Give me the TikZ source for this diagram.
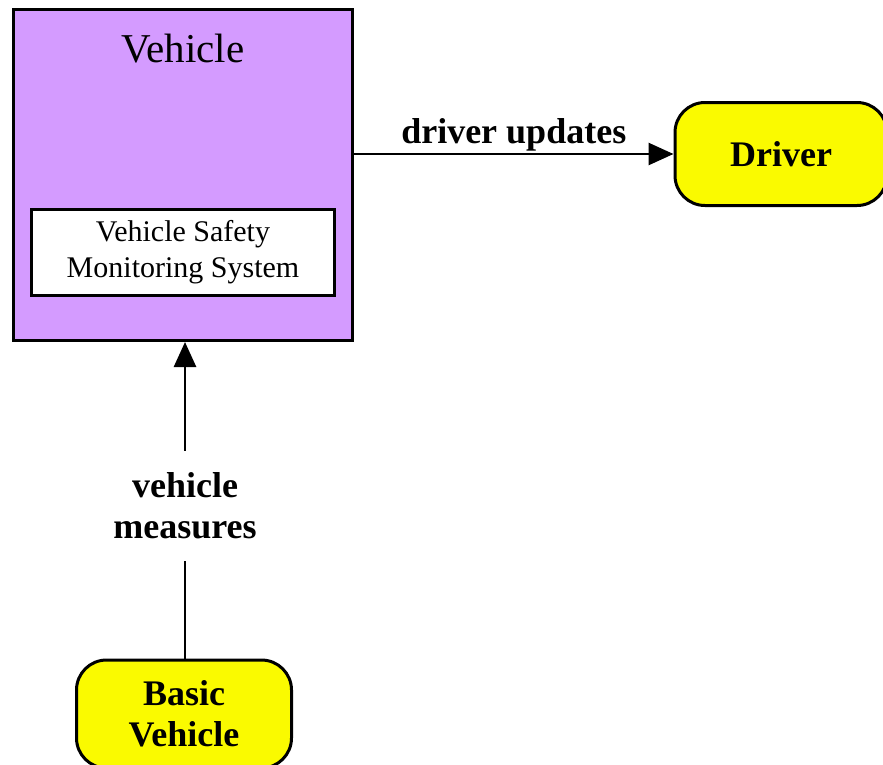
\documentclass[tikz,border=0pt]{standalone}
\usepackage{fontspec}
\setmainfont{Liberation Serif}
\usetikzlibrary{arrows.meta}
\definecolor{vpurple}{RGB}{212,155,255}
\definecolor{vyellow}{RGB}{250,250,0}
\tikzset{
  container/.style={draw, line width=3pt, fill=vpurple, inner sep=0pt},
  subsys/.style={draw, line width=3pt, fill=white, inner sep=0pt, align=center,
    font=\fontsize{30}{36}\selectfont},
  terminator/.style={draw, line width=3pt, fill=vyellow, rounded corners=30pt,
    inner sep=0pt, align=center, font=\fontsize{36}{41}\selectfont\bfseries},
  flowlabel/.style={align=center, font=\fontsize{36}{41}\selectfont\bfseries},
  conn/.style={line width=2.7pt},
  connarrow/.style={line width=2.7pt, -{Triangle[length=25pt, width=22pt]}}
}
\begin{document}
\begin{tikzpicture}[x=1pt, y=-1pt]
\useasboundingbox (0,0) rectangle (883,764);
\node[container, minimum width=339pt, minimum height=331pt] (vehicle) at (183,175) {};
\node[anchor=base, font=\fontsize{41}{48}\selectfont] (title) at (183,62) {Vehicle};
\node[subsys, minimum width=303pt, minimum height=86pt] (vsms) at (183,252)
  {Vehicle Safety\\Monitoring System};
\node[terminator, minimum width=212pt, minimum height=103pt] (driver) at (781,154) {Driver};
\node[terminator, minimum width=215pt, minimum height=108pt] (bv) at (184,714) {Basic\\Vehicle};
\node[flowlabel, minimum height=110pt, inner sep=0pt] (lbl) at (185,506) {vehicle\\measures};
\draw[connarrow] (vehicle.east |- driver.west) -- node[midway, above, inner sep=1pt,
  font=\fontsize{36}{41}\selectfont\bfseries] (dulbl) {driver updates} (driver.west);
\draw[conn] (bv.north -| lbl.south) -- (lbl.south);
\draw[connarrow] (lbl.north) -- (lbl.north |- vehicle.south);
\end{tikzpicture}
\end{document}
